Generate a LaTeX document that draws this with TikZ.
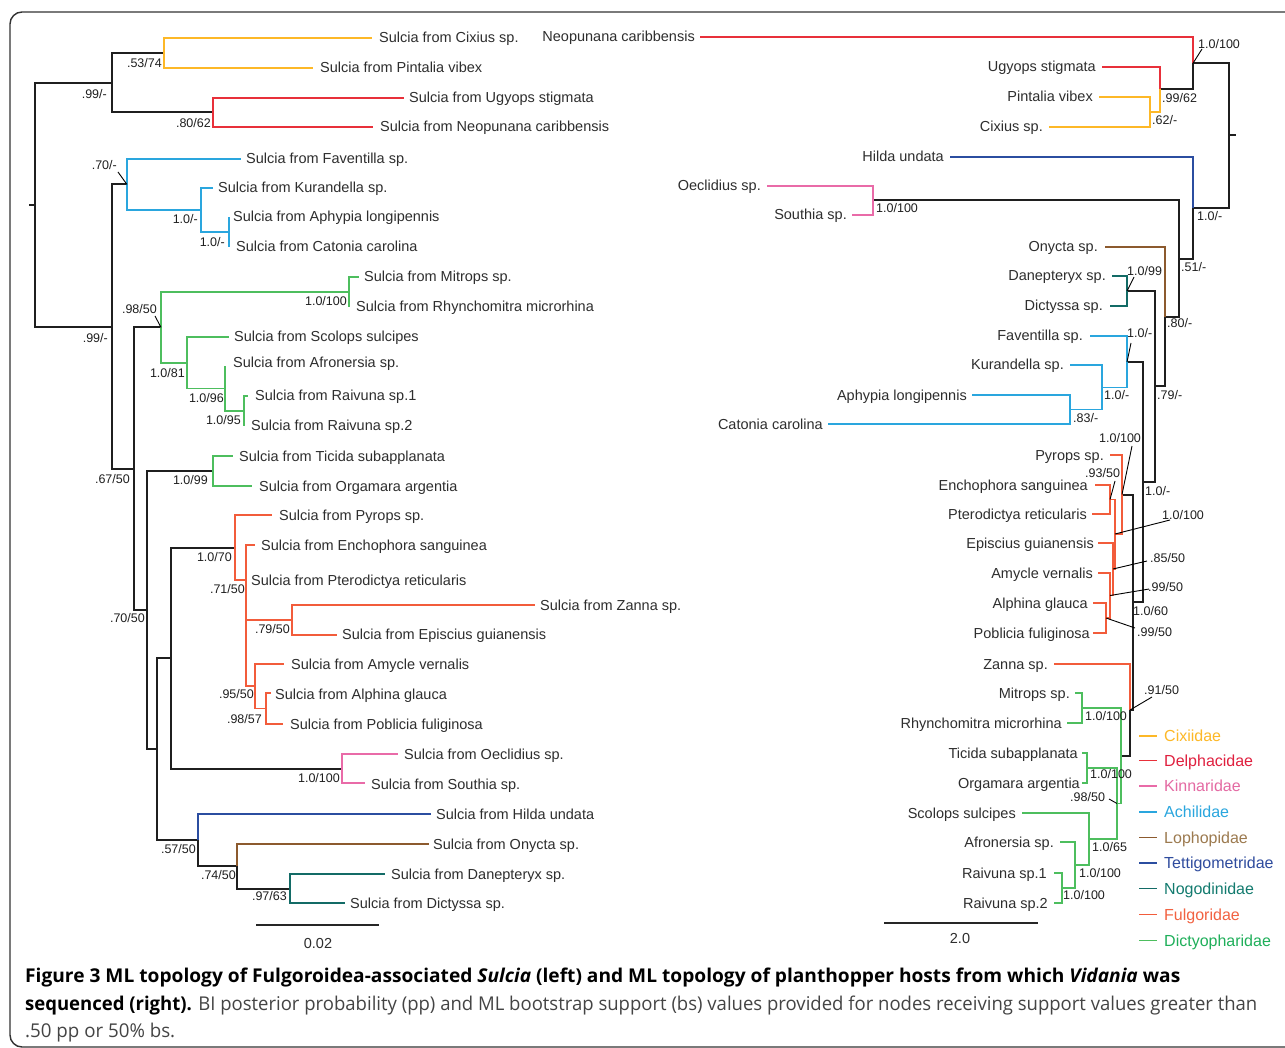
\documentclass[tikz,border=0pt]{standalone}
\usepackage{fontspec}
\usepackage{graphicx}
\setmainfont{Liberation Sans}
\newfontfamily\capfont{Open Sans}
\definecolor{cCix}{HTML}{FDB827}
\definecolor{cDel}{HTML}{E8303A}
\definecolor{cKin}{HTML}{E96BA8}
\definecolor{cAch}{HTML}{2AA6DE}
\definecolor{cLop}{HTML}{8C5A2E}
\definecolor{cTet}{HTML}{2B4DA0}
\definecolor{cNog}{HTML}{136B66}
\definecolor{cFul}{HTML}{F25C3B}
\definecolor{cDic}{HTML}{4DBE5E}
\definecolor{tCix}{HTML}{FDB827}
\definecolor{tDel}{HTML}{E0203F}
\definecolor{tKin}{HTML}{E46AA3}
\definecolor{tAch}{HTML}{2AA6DE}
\definecolor{tLop}{HTML}{9C7A4F}
\definecolor{tTet}{HTML}{2F4C9E}
\definecolor{tNog}{HTML}{137B6F}
\definecolor{tFul}{HTML}{F26241}
\definecolor{tDic}{HTML}{1FAF5A}
\definecolor{tx}{HTML}{2E2E2E}
\definecolor{capgray}{HTML}{444444}
\begin{document}
\begin{tikzpicture}[x=1pt,y=-1pt,
  bk/.style={line width=2pt,draw=black!88},
  br/.style={line width=1.7pt},
  ld/.style={line width=0.9pt,draw=black},
  lfL/.style={anchor=base west,inner sep=0,font=\fontsize{14.5}{16}\selectfont,text=tx},
  lfR/.style={anchor=base east,inner sep=0,font=\fontsize{14.5}{16}\selectfont,text=tx},
  svL/.style={anchor=base east,inner sep=0,font=\fontsize{12.5}{14}\selectfont,text=black!88},
  svR/.style={anchor=base west,inner sep=0,font=\fontsize{12.5}{14}\selectfont,text=black!88},
  lg/.style={anchor=base west,inner sep=0,font=\fontsize{16}{18}\selectfont},
  captxt/.style={anchor=base west,inner sep=0}]
\useasboundingbox (0,0) rectangle (1285,1048);
\fill[white] (0,0) rectangle (1285,1048);
% frame
\draw[line width=1.4pt,black!80,rounded corners=12pt] (10,12) rectangle (1310,1047);

% ================= LEFT TREE =================
\coordinate (L0) at (35,204.7);
\coordinate (L0s) at (29,204.7);
\coordinate (L1) at (112,82.75);
\coordinate (L2) at (164,53);
\coordinate (L3) at (213,112.5);
\coordinate (L4) at (112,326.6);
\coordinate (L5) at (127,184.5);
\coordinate (L6) at (201,210);
\coordinate (L7) at (229,232);
\coordinate (L8) at (134,468.7);
\coordinate (L9) at (161,327.4);
\coordinate (L10) at (349,292);
\coordinate (L11) at (187,362.75);
\coordinate (L12) at (225,388.5);
\coordinate (L13) at (244,411);
\coordinate (L14) at (147,610);
\coordinate (L15) at (213,471);
\coordinate (L16) at (157,749);
\coordinate (L17) at (171,658);
\coordinate (L18) at (235,547.5);
\coordinate (L19) at (246,580);
\coordinate (L20) at (292,620);
\coordinate (L21) at (255,686.25);
\coordinate (L22) at (266,708.5);
\coordinate (L23) at (342,768.5);
\coordinate (L24) at (198,840);
\coordinate (L25) at (237,866.25);
\coordinate (L26) at (290,888.5);
% tips
\coordinate (a1) at (372,38);
\coordinate (a2) at (313,68);
\coordinate (a3) at (404,98);
\coordinate (a4) at (373,127);
\coordinate (a5) at (241,159);
\coordinate (a6) at (213,188);
\coordinate (a7) at (229,217);
\coordinate (a8) at (229,247);
\coordinate (a9) at (359,277);
\coordinate (a10) at (349,307);
\coordinate (a11) at (229,337);
\coordinate (a12) at (225,366);
\coordinate (a13) at (248,396);
\coordinate (a14) at (244,426);
\coordinate (a15) at (233,456);
\coordinate (a16) at (252,486);
\coordinate (a17) at (272,515);
\coordinate (a18) at (255,545);
\coordinate (a19) at (246,580);
\coordinate (a20) at (535,605);
\coordinate (a21) at (337,635);
\coordinate (a22) at (284,664);
\coordinate (a23) at (271,693);
\coordinate (a24) at (283,724);
\coordinate (a25) at (398,754);
\coordinate (a26) at (365,783);
\coordinate (a27) at (431,814);
\coordinate (a28) at (429,844);
\coordinate (a29) at (385,874);
\coordinate (a30) at (345,903);

\draw[bk] (L0) -- (L0s) (L0) |- (L1) (L0) |- (L4) (L1) |- (L2) (L1) |- (L3)
  (L4) |- (L5) (L4) |- (L8) (L8) |- (L9) (L8) |- (L14) (L14) |- (L15) (L14) |- (L16)
  (L16) |- (L17) (L16) |- (L24) (L17) |- (L18) (L17) |- (L23);
\draw[br,cCix] (L2) |- (a1) (L2) |- (a2);
\draw[br,cDel] (L3) |- (a3) (L3) |- (a4);
\draw[br,cAch] (L5) |- (a5) (L5) |- (L6) (L6) |- (a6) (L6) |- (L7) (L7) |- (a7) (L7) |- (a8);
\draw[br,cDic] (L9) |- (L10) (L9) |- (L11) (L10) |- (a9) (L10) |- (a10) (L11) |- (a11) (L11) |- (L12)
  (L12) |- (a12) (L12) |- (L13) (L13) |- (a13) (L13) |- (a14) (L15) |- (a15) (L15) |- (a16);
\draw[br,cFul] (L18) |- (a17) (L18) |- (L19) (L19) |- (a18) (L19) |- (L20) (L19) |- (L21)
  (L20) |- (a20) (L20) |- (a21) (L21) |- (a22) (L21) |- (L22) (L22) |- (a23) (L22) |- (a24);
\draw[br,cKin] (L23) |- (a25) (L23) |- (a26);
\draw[br,cTet] (L24) |- (a27);
\draw[bk] (L24) |- (L25);
\draw[br,cLop] (L25) |- (a28);
\draw[bk] (L25) |- (L26);
\draw[br,cNog] (L26) |- (a29) (L26) |- (a30);

% left leaf labels
\node[lfL] (n1) at (379,43) {Sulcia from Cixius sp.};
\node[lfL] (n2) at (320,73) {Sulcia from Pintalia vibex};
\node[lfL] (n3) at (409,103) {Sulcia from Ugyops stigmata};
\node[lfL] (n4) at (380,132) {Sulcia from Neopunana caribbensis};
\node[lfL] (n5) at (246,164) {Sulcia from Faventilla sp.};
\node[lfL] (n6) at (218,193) {Sulcia from Kurandella sp.};
\node[lfL] (n7) at (233,222) {Sulcia from Aphypia longipennis};
\node[lfL] (n8) at (236,252) {Sulcia from Catonia carolina};
\node[lfL] (n9) at (364,282) {Sulcia from Mitrops sp.};
\node[lfL] (n10) at (356,312) {Sulcia from Rhynchomitra microrhina};
\node[lfL] (n11) at (234,342) {Sulcia from Scolops sulcipes};
\node[lfL] (n12) at (233,368) {Sulcia from Afronersia sp.};
\node[lfL] (n13) at (255,401) {Sulcia from Raivuna sp.1};
\node[lfL] (n14) at (251,431) {Sulcia from Raivuna sp.2};
\node[lfL] (n15) at (239,461) {Sulcia from Ticida subapplanata};
\node[lfL] (n16) at (259,491) {Sulcia from Orgamara argentia};
\node[lfL] (n17) at (279,520) {Sulcia from Pyrops sp.};
\node[lfL] (n18) at (261,550) {Sulcia from Enchophora sanguinea};
\node[lfL] (n19) at (251,585) {Sulcia from Pterodictya reticularis};
\node[lfL] (n20) at (540,610) {Sulcia from Zanna sp.};
\node[lfL] (n21) at (342,639) {Sulcia from Episcius guianensis};
\node[lfL] (n22) at (291,669) {Sulcia from Amycle vernalis};
\node[lfL] (n23) at (275,699) {Sulcia from Alphina glauca};
\node[lfL] (n24) at (290,729) {Sulcia from Poblicia fuliginosa};
\node[lfL] (n25) at (404,759) {Sulcia from Oeclidius sp.};
\node[lfL] (n26) at (371,789) {Sulcia from Southia sp.};
\node[lfL] (n27) at (436,819) {Sulcia from Hilda undata};
\node[lfL] (n28) at (433,849) {Sulcia from Onycta sp.};
\node[lfL] (n29) at (391,879) {Sulcia from Danepteryx sp.};
\node[lfL] (n30) at (350,908) {Sulcia from Dictyssa sp.};

% left support values
\node[svL] (s1) at (162,67.5) {.53/74};
\node[svL] (s2) at (107,98.5) {.99/-};
\node[svL] (s3) at (211,127.5) {.80/62};
\node[svL] (s4) at (117,169.5) {.70/-};
\coordinate (q4) at (118,172);
\draw[ld] (L5) -- (q4);
\node[svL] (s5) at (198,223.5) {1.0/-};
\node[svL] (s6) at (225,246.5) {1.0/-};
\node[svL] (s7) at (347,305.5) {1.0/100};
\node[svL] (s8) at (157,313.5) {.98/50};
\coordinate (q8) at (155,316);
\draw[ld] (L9) -- (q8);
\node[svL] (s9) at (108,342.5) {.99/-};
\node[svL] (s10) at (185,377.5) {1.0/81};
\node[svL] (s11) at (224,402.5) {1.0/96};
\node[svL] (s12) at (241,424.5) {1.0/95};
\node[svL] (s13) at (208,484.5) {1.0/99};
\node[svL] (s14) at (130,483.5) {.67/50};
\node[svL] (s15) at (232,561.5) {1.0/70};
\node[svL] (s16) at (245,593.5) {.71/50};
\node[svL] (s17) at (145,622.5) {.70/50};
\node[svL] (s18) at (290,633.5) {.79/50};
\node[svL] (s19) at (254,698.5) {.95/50};
\node[svL] (s20) at (262,723.5) {.98/57};
\node[svL] (s21) at (340,782.5) {1.0/100};
\node[svL] (s22) at (196,853.5) {.57/50};
\node[svL] (s23) at (236,879.5) {.74/50};
\node[svL] (s24) at (287,900.5) {.97/63};

% left scale bar
\coordinate (sb1) at (256,925);
\coordinate (sb2) at (379,925);
\draw[line width=1.7pt,black!85] (sb1) -- (sb2);
\node[anchor=base,inner sep=0,font=\fontsize{14.5}{16}\selectfont,text=tx] (sbt) at (318,948) {0.02};

% ================= RIGHT TREE =================
\coordinate (Rt) at (1229,135.5);
\coordinate (Rts) at (1236,135.5);
\coordinate (R1) at (1193,63.25);
\coordinate (R2) at (1160,89.5);
\coordinate (R3) at (1150,112);
\coordinate (R4) at (1193,207.8);
\coordinate (R5) at (1179,258.6);
\coordinate (R6) at (873,200.5);
\coordinate (R7) at (1165,316.8);
\coordinate (R8) at (1155,386.5);
\coordinate (R9) at (1127,291);
\coordinate (R10) at (1143,482.1);
\coordinate (R11) at (1127,362);
\coordinate (R12) at (1102,387.5);
\coordinate (R13) at (1070,409.5);
\coordinate (R14) at (1133,602.2);
\coordinate (R15) at (1122,494.5);
\coordinate (R16) at (1115,534);
\coordinate (R17) at (1110,499.5);
\coordinate (R18) at (1113,569);
\coordinate (R19) at (1110,595.5);
\coordinate (R20) at (1106,618);
\coordinate (R21) at (1130,710);
\coordinate (R22) at (1121,755.75);
\coordinate (R23) at (1082,708);
\coordinate (R24) at (1117,803.5);
\coordinate (R25) at (1087,768);
\coordinate (R26) at (1089,839);
\coordinate (R27) at (1075,865);
\coordinate (R28) at (1062,888);
% tips
\coordinate (b1) at (700,37);
\coordinate (b2) at (1102,67);
\coordinate (b3) at (1099,97);
\coordinate (b4) at (1049,127);
\coordinate (b5) at (950,157);
\coordinate (b6) at (767,186);
\coordinate (b7) at (852,215);
\coordinate (b8) at (1105,247);
\coordinate (b9) at (1112,276);
\coordinate (b10) at (1110,306);
\coordinate (b11) at (1090,336);
\coordinate (b12) at (1070,365);
\coordinate (b13) at (972,395);
\coordinate (b14) at (828,424);
\coordinate (b15) at (1110,455);
\coordinate (b16) at (1095,485);
\coordinate (b17) at (1092,514);
\coordinate (b18) at (1098,543);
\coordinate (b19) at (1098,573);
\coordinate (b20) at (1093,603);
\coordinate (b21) at (1093,633);
\coordinate (b22) at (1054,664);
\coordinate (b23) at (1075,693);
\coordinate (b24) at (1067,723);
\coordinate (b25) at (1082,753);
\coordinate (b26) at (1082,783);
\coordinate (b27) at (1022,813);
\coordinate (b28) at (1060,842);
\coordinate (b29) at (1054,873);
\coordinate (b30) at (1054,903);

\draw[bk] (Rt) -- (Rts) (Rt) |- (R1) (Rt) |- (R4) (R1) |- (R2) (R4) |- (R5) (R5) |- (R6) (R5) |- (R7)
  (R7) |- (R8) (R8) |- (R9) (R8) |- (R10) (R10) |- (R11) (R10) |- (R14) (R14) |- (R15) (R14) |- (R21)
  (R21) |- (R22);
\draw[br,cDel] (R1) |- (b1) (R2) |- (b2);
\draw[br,cCix] (R2) |- (R3) (R3) |- (b3) (R3) |- (b4);
\draw[br,cTet] (R4) |- (b5);
\draw[br,cKin] (R6) |- (b6) (R6) |- (b7);
\draw[br,cLop] (R7) |- (b8);
\draw[br,cNog] (R9) |- (b9) (R9) |- (b10);
\draw[br,cAch] (R11) |- (b11) (R11) |- (R12) (R12) |- (b12) (R12) |- (R13) (R13) |- (b13) (R13) |- (b14);
\draw[br,cFul] (R15) |- (b15) (R15) |- (R16) (R16) |- (R17) (R16) |- (R18) (R17) |- (b16) (R17) |- (b17)
  (R18) |- (b18) (R18) |- (R19) (R19) |- (b19) (R19) |- (R20) (R20) |- (b20) (R20) |- (b21) (R21) |- (b22);
\draw[br,cDic] (R22) |- (R23) (R22) |- (R24) (R23) |- (b23) (R23) |- (b24) (R24) |- (R25) (R24) |- (R26)
  (R25) |- (b25) (R25) |- (b26) (R26) |- (b27) (R26) |- (R27) (R27) |- (b28) (R27) |- (R28) (R28) |- (b29) (R28) |- (b30);

% right leaf labels
\node[lfR] (m1) at (695,42) {Neopunana caribbensis};
\node[lfR] (m2) at (1096,72) {Ugyops stigmata};
\node[lfR] (m3) at (1093,102) {Pintalia vibex};
\node[lfR] (m4) at (1043,132) {Cixius sp.};
\node[lfR] (m5) at (944,162) {Hilda undata};
\node[lfR] (m6) at (761,191) {Oeclidius sp.};
\node[lfR] (m7) at (847,220) {Southia sp.};
\node[lfR] (m8) at (1098,252) {Onycta sp.};
\node[lfR] (m9) at (1106,281) {Danepteryx sp.};
\node[lfR] (m10) at (1103,311) {Dictyssa sp.};
\node[lfR] (m11) at (1083,341) {Faventilla sp.};
\node[lfR] (m12) at (1064,370) {Kurandella sp.};
\node[lfR] (m13) at (967,400) {Aphypia longipennis};
\node[lfR] (m14) at (823,429) {Catonia carolina};
\node[lfR] (m15) at (1104,460) {Pyrops sp.};
\node[lfR] (m16) at (1088,490) {Enchophora sanguinea};
\node[lfR] (m17) at (1087,519) {Pterodictya reticularis};
\node[lfR] (m18) at (1094,548) {Episcius guianensis};
\node[lfR] (m19) at (1093,578) {Amycle vernalis};
\node[lfR] (m20) at (1088,608) {Alphina glauca};
\node[lfR] (m21) at (1090,638) {Poblicia fuliginosa};
\node[lfR] (m22) at (1048,669) {Zanna sp.};
\node[lfR] (m23) at (1070,698) {Mitrops sp.};
\node[lfR] (m24) at (1062,728) {Rhynchomitra microrhina};
\node[lfR] (m25) at (1078,758) {Ticida subapplanata};
\node[lfR] (m26) at (1080,788) {Orgamara argentia};
\node[lfR] (m27) at (1016,818) {Scolops sulcipes};
\node[lfR] (m28) at (1054,847) {Afronersia sp.};
\node[lfR] (m29) at (1047,878) {Raivuna sp.1};
\node[lfR] (m30) at (1048,908) {Raivuna sp.2};

% right support values
\node[svR] (r1) at (1198,48.5) {1.0/100};
\coordinate (p1) at (1202,49);
\draw[ld] (R1) -- (p1);
\node[svR] (r2) at (1162,102.5) {.99/62};
\node[svR] (r3) at (1152,124.5) {.62/-};
\node[svR] (r4) at (876,212.5) {1.0/100};
\node[svR] (r5) at (1197,220.5) {1.0/-};
\node[svR] (r6) at (1181,271.5) {.51/-};
\node[svR] (r7) at (1127,275.5) {1.0/99};
\coordinate (p7) at (1134,277);
\draw[ld] (R9) -- (p7);
\node[svR] (r8) at (1167,327.5) {.80/-};
\node[svR] (r9) at (1127,337.5) {1.0/-};
\coordinate (p9) at (1131,343);
\draw[ld] (R11) -- (p9);
\node[svR] (r10) at (1104,399.5) {1.0/-};
\node[svR] (r11) at (1157,399.5) {.79/-};
\node[svR] (r12) at (1073,422.5) {.83/-};
\node[svR] (r13) at (1099,442.5) {1.0/100};
\coordinate (p13) at (1132,446);
\draw[ld] (R15) -- (p13);
\node[svR] (r14) at (1085,477.5) {.93/50};
\coordinate (p14) at (1115,481);
\draw[ld] (R17) -- (p14);
\node[svR] (r15) at (1145,495.5) {1.0/-};
\node[svR] (r16) at (1162,519.5) {1.0/100};
\coordinate (p16) at (1170,520);
\draw[ld] (R16) -- (p16);
\node[svR] (r17) at (1150,562.5) {.85/50};
\coordinate (p17) at (1147,561);
\draw[ld] (R18) -- (p17);
\node[svR] (r18) at (1148,591.5) {.99/50};
\coordinate (p18) at (1149,589);
\draw[ld] (R19) -- (p18);
\node[svR] (r19) at (1133,615.5) {1.0/60};
\node[svR] (r20) at (1137,636.5) {.99/50};
\coordinate (p20) at (1135,628);
\draw[ld] (R20) -- (p20);
\node[svR] (r21) at (1144,694.5) {.91/50};
\coordinate (p21) at (1152,697);
\draw[ld] (R21) -- (p21);
\node[svR] (r22) at (1085,720.5) {1.0/100};
\node[svR] (r23) at (1090,778.5) {1.0/100};
\node[svR] (r24) at (1070,801.5) {.98/50};
\coordinate (p24) at (1109,799);
\draw[ld] (R24) -- (p24);
\node[svR] (r25) at (1092,851.5) {1.0/65};
\node[svR] (r26) at (1079,877.5) {1.0/100};
\node[svR] (r27) at (1063,899.5) {1.0/100};

% right scale bar
\coordinate (sc1) at (884,923);
\coordinate (sc2) at (1038,923);
\draw[line width=1.7pt,black!85] (sc1) -- (sc2);
\node[anchor=base,inner sep=0,font=\fontsize{14.5}{16}\selectfont,text=tx] (sct) at (960,943) {2.0};

% legend
\foreach \i/\yy/\lc/\tc/\tt in {1/736/cCix/tCix/Cixiidae,2/760.5/cDel/tDel/Delphacidae,3/786/cKin/tKin/Kinnaridae,
  4/812/cAch/tAch/Achilidae,5/837.5/cLop/tLop/Lophopidae,6/863/cTet/tTet/Tettigometridae,
  7/888.5/cNog/tNog/Nogodinidae,8/914.5/cFul/tFul/Fulgoridae,9/940.5/cDic/tDic/Dictyopharidae}{
  \coordinate (g\i a) at (1139,\yy);
  \coordinate (g\i b) at (1157,\yy);
  \draw[br,\lc] (g\i a) -- (g\i b);
  \node[lg,text=\tc] (g\i) at (1164,\yy+5.8) {\tt};
}

% caption
\node[captxt] (c1) at (25,982) {\resizebox{1155pt}{\height}{\capfont\fontsize{19}{22}\selectfont\bfseries Figure 3 ML topology of Fulgoroidea-associated \textit{Sulcia} (left) and ML topology of planthopper hosts from which \textit{Vidania} was}};
\node[captxt] (c2) at (25,1010) {\resizebox{1232pt}{\height}{\capfont\fontsize{19}{22}\selectfont{\bfseries sequenced (right).} \textcolor{capgray}{BI posterior probability (pp) and ML bootstrap support (bs) values provided for nodes receiving support values greater than}}};
\node[captxt,text=capgray] (c3) at (25,1037) {\resizebox{150pt}{\height}{\capfont\fontsize{19}{22}\selectfont .50 pp or 50\% bs.}};
\end{tikzpicture}
\end{document}
